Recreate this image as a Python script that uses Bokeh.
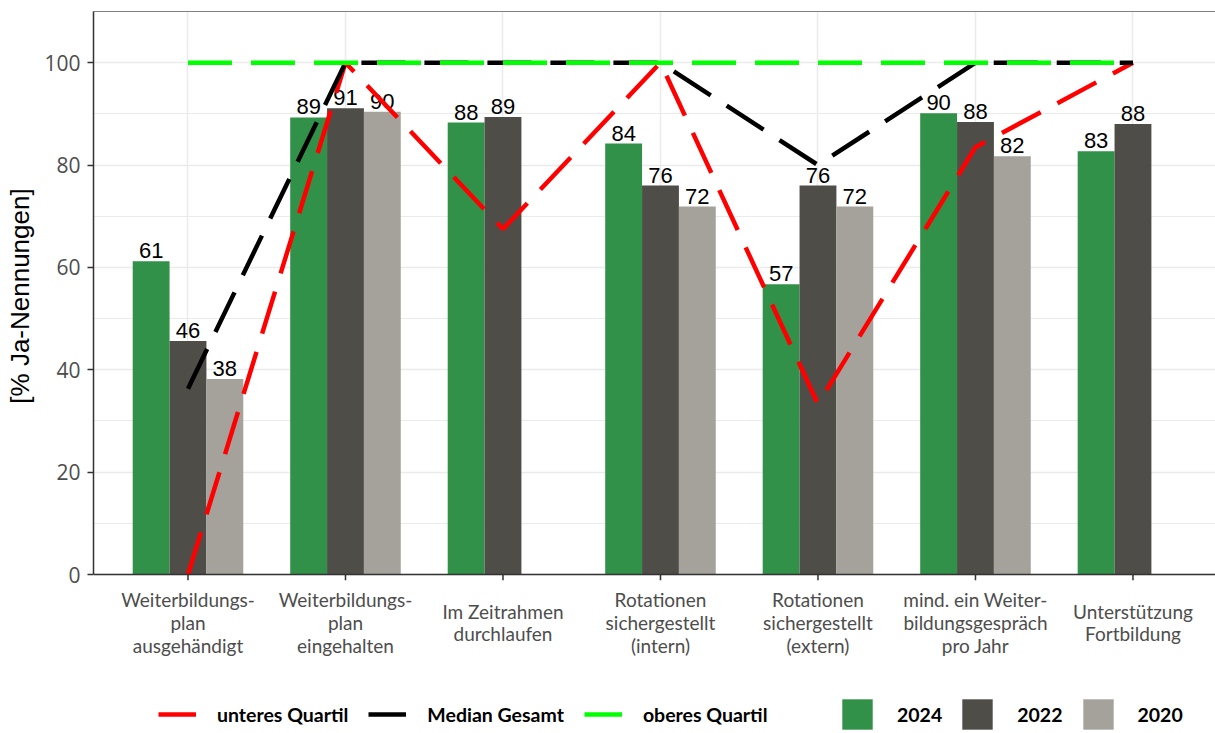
from bokeh.plotting import figure
from bokeh.layouts import column
from bokeh.models import (ColumnDataSource, FixedTicker, Legend, LegendItem,
                          Range1d, LinearAxis, Grid, Span)
from bokeh.core.properties import value
from bokeh.embed import file_html
from bokeh.resources import INLINE

# ---------------- data ----------------
categories = [
    "Weiterbildungs-\nplan\nausgehändigt",
    "Weiterbildungs-\nplan\neingehalten",
    "Im Zeitrahmen\ndurchlaufen",
    "Rotationen\nsichergestellt\n(intern)",
    "Rotationen\nsichergestellt\n(extern)",
    "mind. ein Weiter-\nbildungsgespräch\npro Jahr",
    "Unterstützung\nFortbildung",
]
years = ["2024", "2022", "2020"]
v2024 = [61.2, 89.3, 88.3, 84.2, 56.7, 90.1, 82.7]
v2022 = [45.6, 91.1, 89.4, 76.0, 76.0, 88.4, 88.0]
v2020 = [38.2, 90.4, None, 71.9, 71.9, 81.7, None]
lower_quartile = [0, 100, 67.5, 100, 33.3, 83.5, 100]
median_total = [36.3, 100, 100, 100, 80.0, 100, 100]
upper_quartile = [100, 100, 100, 100, 100, 100, 100]
y_ticks = [0, 20, 40, 60, 80, 100]
y_minor = [10, 30, 50, 70, 90, 110]

bar_colors = ["#319148", "#4f4d48", "#a5a29b"]
line_colors = ["#ff0000", "#000000", "#00ff00"]
line_names = ["unteres Quartil", "Median Gesamt", "oberes Quartil"]

BAR_W = 0.234
offsets = [-BAR_W, 0.0, BAR_W]
LINE_W = 4.5
DASH = "44 19"
TICK_LEN = 1.17          # x tick length in y units (about 6 px)
xs_cat = list(range(len(categories)))

# ---------------- main figure ----------------
p = figure(width=1215, height=588, output_backend="svg", toolbar_location=None,
           x_range=Range1d(-0.6, 6.524), y_range=Range1d(-TICK_LEN, 110),
           x_axis_type=None,
           min_border_left=93, min_border_right=0, min_border_top=11,
           min_border_bottom=8)
p.outline_line_color = None
p.background_fill_color = "white"

# y axis
ya = p.yaxis[0]
ya.ticker = FixedTicker(ticks=y_ticks, minor_ticks=y_minor)
ya.bounds = (0, 110)
ya.major_label_text_font = "Open Sans"
ya.major_label_text_font_size = "21px"
ya.major_label_text_color = "#4d4d4d"
ya.major_label_standoff = 7
ya.axis_label = "[% Ja-Nennungen]"
ya.axis_label_text_font = "Liberation Sans"
ya.axis_label_text_font_size = "26px"
ya.axis_label_text_font_style = "normal"
ya.axis_label_text_color = "#000000"
ya.axis_label_standoff = 6
ya.axis_line_color = "#333333"
ya.axis_line_width = 1.5
ya.major_tick_line_color = "#333333"
ya.major_tick_line_width = 1.5
ya.major_tick_in = 0
ya.major_tick_out = 6
ya.minor_tick_line_color = None

# grids
p.ygrid.grid_line_color = "#ebebeb"
p.ygrid.grid_line_width = 1.5
p.ygrid.minor_grid_line_color = "#ebebeb"
p.ygrid.minor_grid_line_width = 1.0
p.add_layout(Grid(dimension=0, ticker=FixedTicker(ticks=xs_cat),
                  grid_line_color="#ebebeb", grid_line_width=1.5))

# top border (panel border; its right side is outside the crop)
top_axis = LinearAxis(ticker=FixedTicker(ticks=[]), major_label_text_font_size="0px",
                      major_tick_line_color=None, minor_tick_line_color=None,
                      axis_line_color="#808080", axis_line_width=1.2)
p.add_layout(top_axis, "above")

# bars + value labels
series = [v2024, v2022, v2020]
bar_sources = []
for yr, vals, col, off in zip(years, series, bar_colors, offsets):
    xs = [i + off for i, v in enumerate(vals) if v is not None]
    ys = [v for v in vals if v is not None]
    src = ColumnDataSource(dict(x=xs, top=ys, lab=[str(int(round(v))) for v in ys]))
    bar_sources.append(src)
    p.vbar(x="x", top="top", bottom=0, width=BAR_W, source=src,
           fill_color=col, line_color=None)
    p.text(x="x", y="top", text="lab", source=src, text_align="center",
           text_baseline="bottom", y_offset=-3,
           text_font=value("Liberation Sans"), text_font_size="22px",
           text_color="#000000")

# x axis line at 0 and category ticks
p.add_layout(Span(location=0, dimension="width", line_color="#333333",
                  line_width=1.5))
p.segment(x0=xs_cat, y0=[0] * len(xs_cat), x1=xs_cat,
          y1=[-TICK_LEN] * len(xs_cat), line_color="#333333", line_width=1.5)

# quartile / median lines
line_series = [lower_quartile, median_total, upper_quartile]
for vals, col in zip(line_series, line_colors):
    p.line(x=xs_cat, y=vals, line_color=col, line_width=LINE_W,
           line_dash=DASH, line_cap="butt")

# ---------------- category label strip (vertically centred labels) ----------------
cat = figure(width=1215, height=72, output_backend="svg", toolbar_location=None,
             x_range=p.x_range, y_range=Range1d(0, 1),
             x_axis_type=None, y_axis_type=None,
             min_border_left=93, min_border_right=0, min_border_top=0,
             min_border_bottom=0)
cat.outline_line_color = None
cat.grid.visible = False
cat_src = ColumnDataSource(dict(x=xs_cat, y=[0.528] * len(xs_cat), t=categories))
cat.text(x="x", y="y", text="t", source=cat_src, text_align="center",
         text_baseline="middle", text_font=value("Lato"), text_font_size="19px",
         text_color="#4d4d4d", text_line_height=0.98)

# ---------------- legend strip (same series, drawn out of view) ----------------
lg = figure(width=1215, height=73, output_backend="svg", toolbar_location=None,
            x_range=Range1d(-0.6, 6.524), y_range=Range1d(200, 201),
            x_axis_type=None, y_axis_type=None,
            min_border_left=93, min_border_right=0, min_border_top=0,
            min_border_bottom=0)
lg.outline_line_color = None
lg.grid.visible = False

line_items = []
for name, vals, col in zip(line_names, line_series, line_colors):
    r = lg.line(x=xs_cat, y=vals, line_color=col, line_width=LINE_W)
    line_items.append(LegendItem(label=name, renderers=[r]))
bar_items = []
for yr, src, col in zip(years, bar_sources, bar_colors):
    r = lg.vbar(x="x", top="top", bottom=0, width=BAR_W, source=src,
                fill_color=col, line_color=None)
    bar_items.append(LegendItem(label=yr, renderers=[r]))

def make_legend(items, loc, spacing):
    return Legend(items=items, location=loc, orientation="horizontal",
                  glyph_width=38, glyph_height=38, label_standoff=21,
                  spacing=spacing, padding=0, margin=0, border_line_color=None,
                  background_fill_alpha=0,
                  label_text_font="Lato", label_text_font_style="bold",
                  label_text_font_size="19.5px", label_text_color="#000000")

lg.add_layout(make_legend(line_items, (65, 0), 20), "center")
lg.add_layout(make_legend(bar_items, (745, 0), 16), "center")

layout = column(p, cat, lg, spacing=0)
open("out.html", "w").write(file_html(layout, INLINE))
